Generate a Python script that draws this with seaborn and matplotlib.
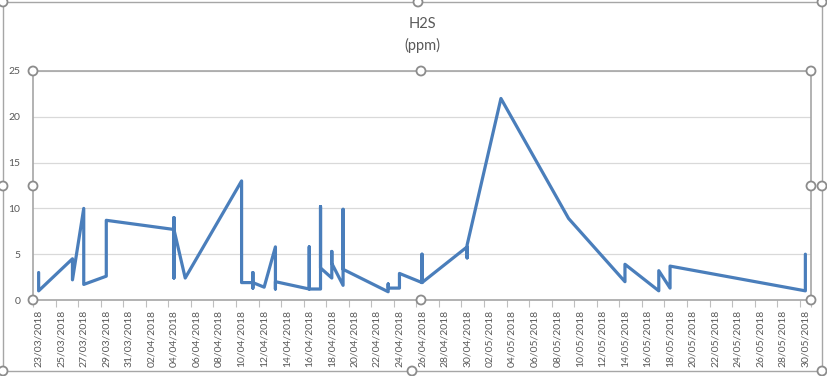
import matplotlib
matplotlib.use("Agg")
import matplotlib.pyplot as plt
import matplotlib.dates as mdates
from matplotlib.patches import Circle, Rectangle
import pandas as pd
import seaborn as sns

# H2S readings (ppm), several readings on some days, kept in logging order
dates = [
    "23/03/2018", "23/03/2018",
    "26/03/2018", "26/03/2018",
    "27/03/2018", "27/03/2018",
    "29/03/2018", "29/03/2018",
    "04/04/2018", "04/04/2018", "04/04/2018", "04/04/2018",
    "05/04/2018",
    "10/04/2018", "10/04/2018",
    "11/04/2018", "11/04/2018", "11/04/2018", "11/04/2018",
    "12/04/2018",
    "13/04/2018", "13/04/2018", "13/04/2018",
    "16/04/2018", "16/04/2018", "16/04/2018",
    "17/04/2018", "17/04/2018", "17/04/2018",
    "18/04/2018", "18/04/2018", "18/04/2018",
    "19/04/2018", "19/04/2018", "19/04/2018",
    "23/04/2018", "23/04/2018", "23/04/2018",
    "24/04/2018", "24/04/2018",
    "26/04/2018", "26/04/2018", "26/04/2018",
    "30/04/2018", "30/04/2018", "30/04/2018",
    "03/05/2018",
    "09/05/2018",
    "14/05/2018", "14/05/2018",
    "17/05/2018", "17/05/2018",
    "18/05/2018", "18/05/2018",
    "30/05/2018", "30/05/2018",
]
h2s = [
    3.0, 1.0,
    4.5, 2.2,
    10.0, 1.7,
    2.6, 8.7,
    7.7, 9.0, 2.4, 7.7,
    2.4,
    13.0, 1.9,
    1.9, 3.0, 1.3, 1.9,
    1.4,
    5.8, 1.2, 2.0,
    1.2, 5.8, 1.2,
    1.2, 10.2, 3.5,
    2.4, 5.3, 4.0,
    1.6, 9.9, 3.35,
    0.9, 1.75, 1.3,
    1.3, 2.9,
    1.9, 5.0, 1.9,
    5.8, 4.6, 6.0,
    22.0,
    8.9,
    2.0, 3.9,
    1.0, 3.2,
    1.3, 3.7,
    1.0, 5.0,
]
y_ticks = [0, 5, 10, 15, 20, 25]

df = pd.DataFrame({"date": pd.to_datetime(dates, format="%d/%m/%Y"), "h2s": h2s})

sns.set_theme(style="white")
plt.rcParams["font.family"] = ["Lato", "DejaVu Sans"]
grey = "#595959"

fig = plt.figure(figsize=(8.28, 3.76), dpi=100)
ax = fig.add_axes([33 / 828, 1 - 300 / 376, 778 / 828, 229 / 376])

sns.lineplot(data=df, x="date", y="h2s", ax=ax, sort=False, estimator=None,
             color="#4a7ebb", linewidth=2.3)

start, end = df["date"].min(), df["date"].max()
half = pd.Timedelta(hours=12)
ax.set_xlim(start - half, end + half)
ax.set_ylim(0, 25)

# labels on every other day, tick marks on the day boundaries
label_days = pd.date_range(start, end, freq="2D")
ax.set_xticks(label_days)
ax.xaxis.set_major_formatter(mdates.DateFormatter("%d/%m/%Y"))
ax.set_xticks(list(label_days - half) + [end + half], minor=True)
ax.tick_params(axis="x", which="major", length=0, pad=7, labelrotation=90,
               labelsize=7.5, labelcolor=grey)
ax.tick_params(axis="x", which="minor", length=5, width=0.8, color="#bfbfbf",
               direction="out", bottom=True)
ax.set_yticks(y_ticks)
ax.tick_params(axis="y", length=0, pad=9, labelsize=7.5, labelcolor=grey)
ax.set_xlabel("")
ax.set_ylabel("")

ax.grid(axis="y", color="#d9d9d9", linewidth=0.9)
for side in ["top", "right", "left", "bottom"]:
    ax.spines[side].set_visible(True)
    ax.spines[side].set_color("#a6a6a6")
    ax.spines[side].set_linewidth(1.2)

ax.set_title("H2S\n(ppm)", fontsize=10.5, color=grey, pad=15, linespacing=1.6)

# selection frame and handles as they appear in the screenshot
over = fig.add_axes([0, 0, 1, 1], facecolor="none")
over.set_xlim(0, 828)
over.set_ylim(376, 0)
over.axis("off")
over.add_patch(Rectangle((3, 2), 819, 369, fill=False, edgecolor="#a6a6a6", linewidth=1.0))
handles = [(3, 2), (418, 2), (822, 2), (3, 186), (822, 186), (3, 371), (412, 371), (822, 371),
           (33, 71), (421, 71), (811, 71), (33, 186), (811, 186), (33, 300), (421, 300), (811, 300)]
for hx, hy in handles:
    over.add_patch(Circle((hx, hy), 4.5, facecolor="white", edgecolor="#8c8c8c", linewidth=1.3))

fig.savefig("out.png", dpi=100)
